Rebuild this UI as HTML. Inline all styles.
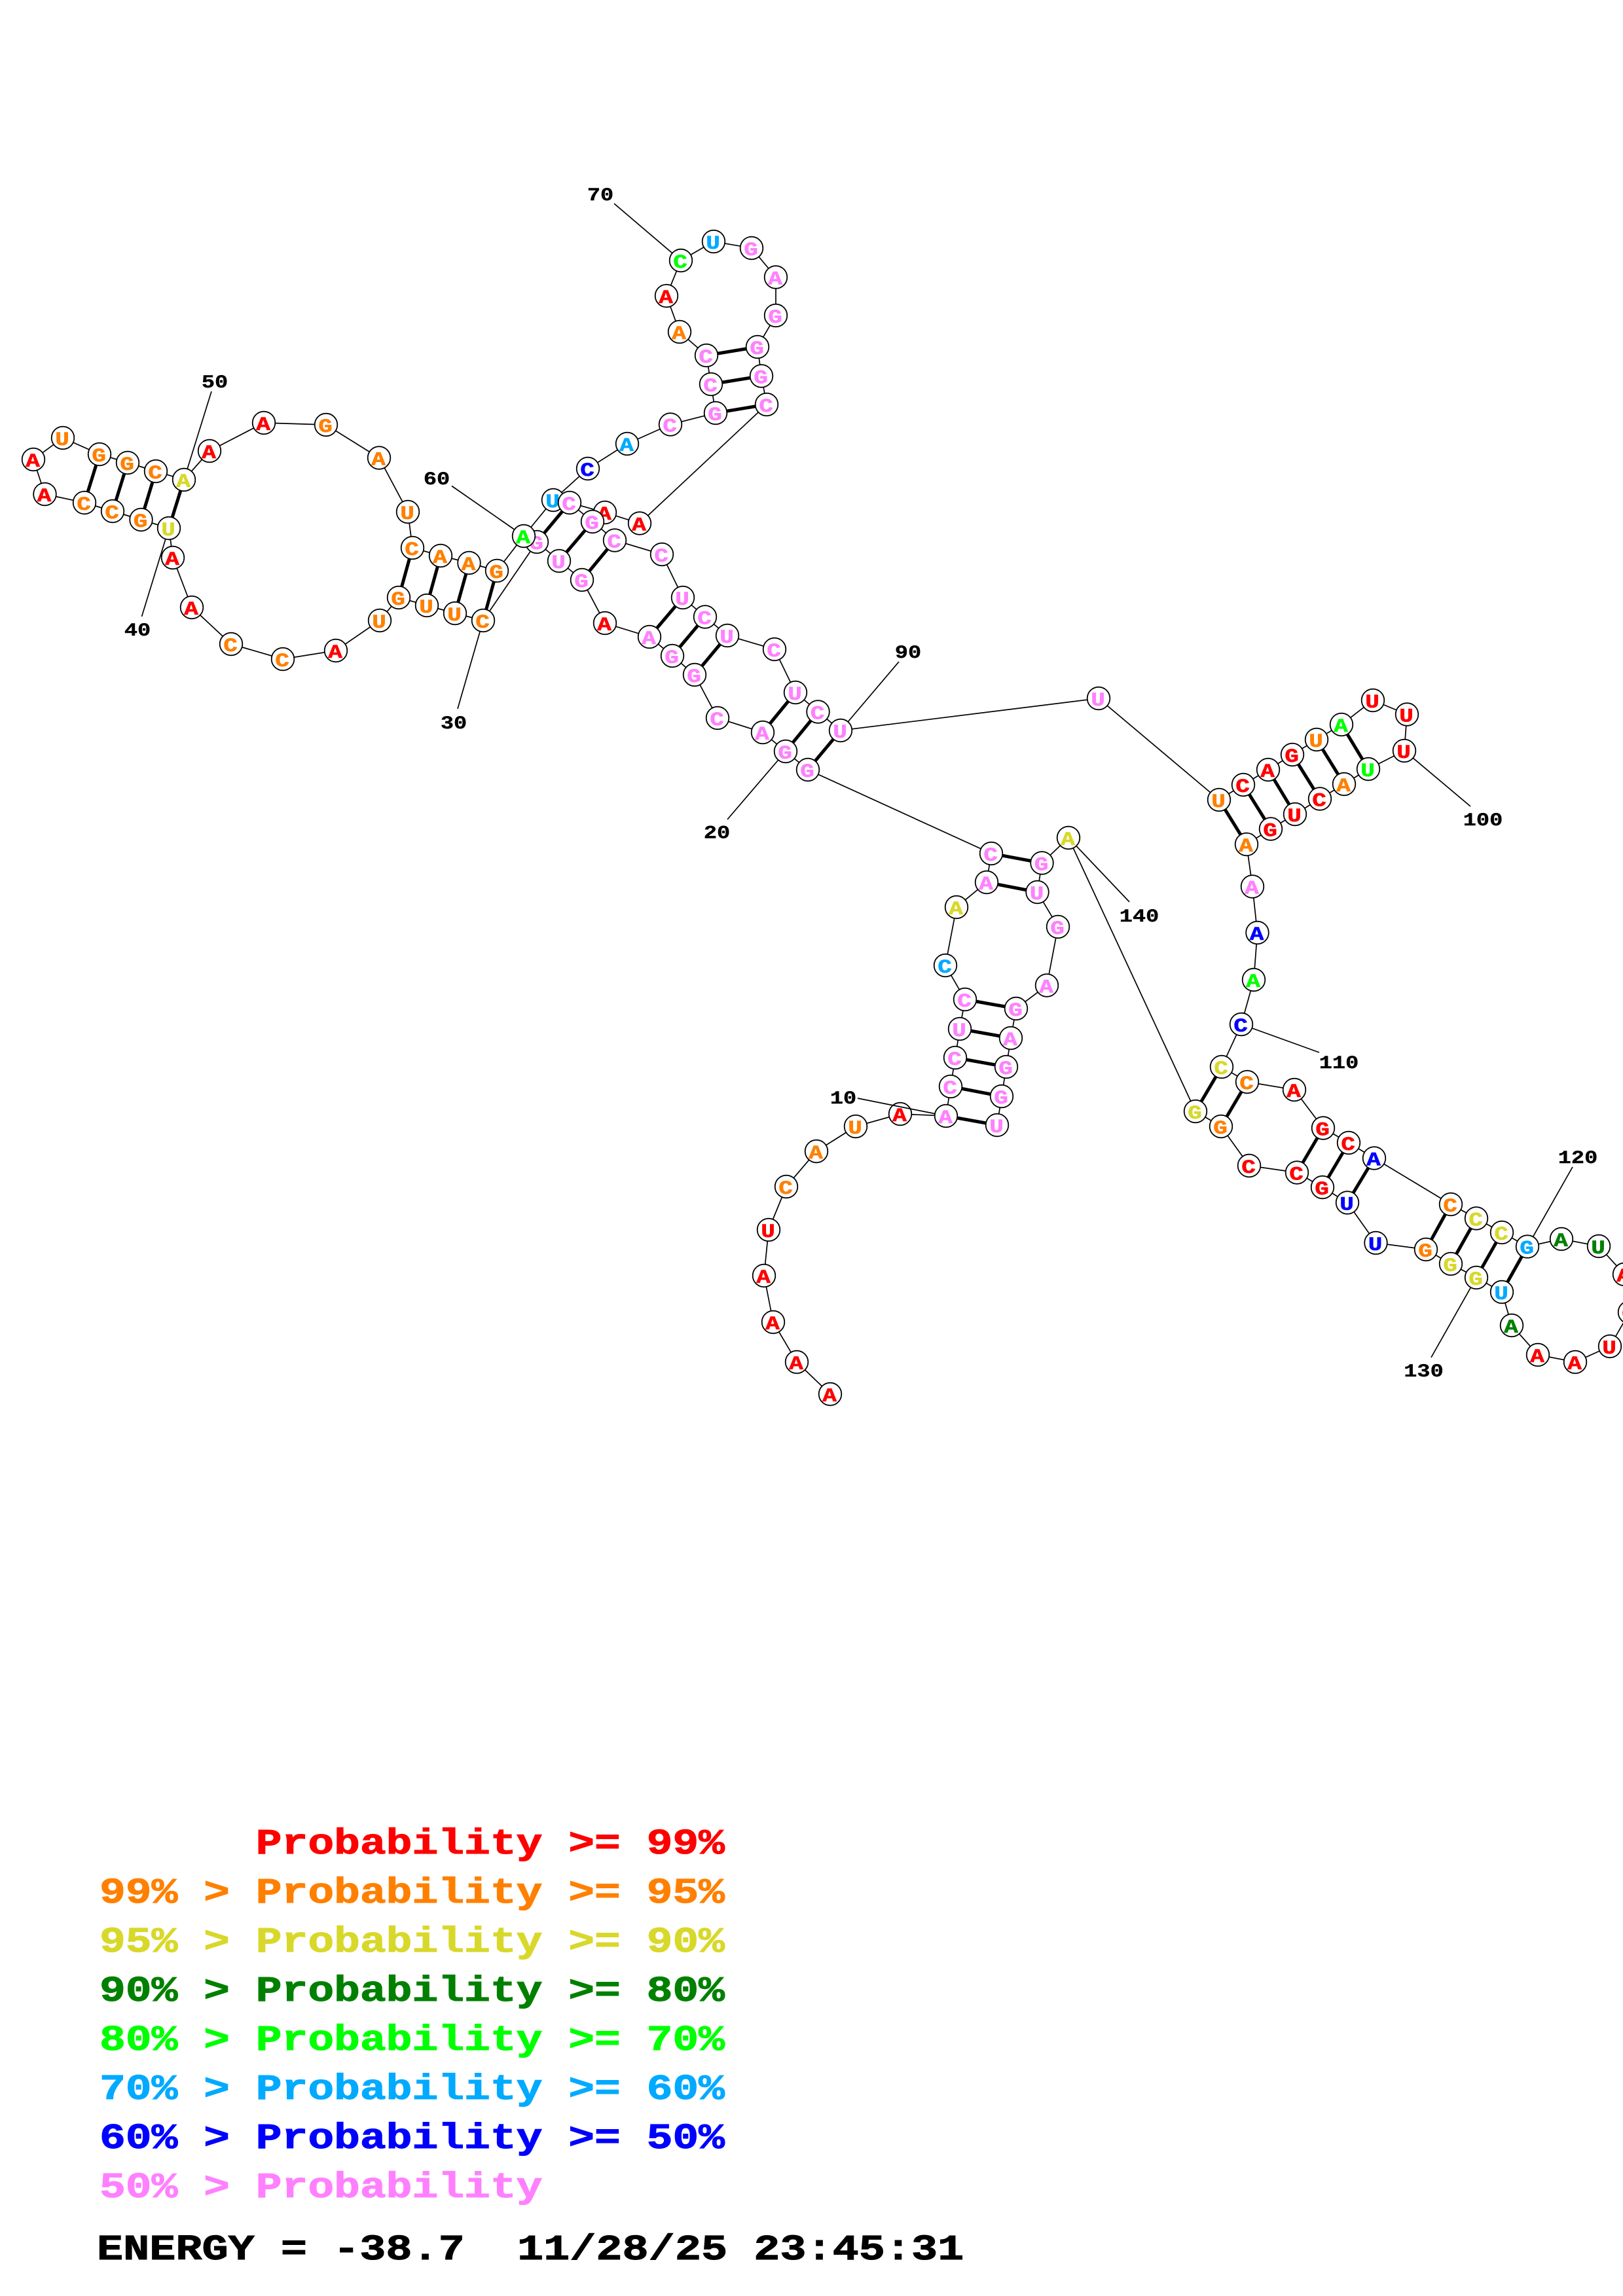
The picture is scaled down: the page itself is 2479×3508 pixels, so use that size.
<!DOCTYPE html>
<html><head><meta charset="utf-8"><title>RNA structure</title>
<style>
html,body{margin:0;padding:0;background:#fff}
svg{display:block}
.b{fill:none;stroke:#000;stroke-width:1.7}
.p line{stroke:#000;stroke-width:5}
.l{stroke:#000;stroke-width:1.7}
circle{fill:#fff;stroke:#000;stroke-width:1.8;r:17.3px}
g.n text{font:bold 30px "Liberation Mono",monospace;text-anchor:middle;stroke-width:.6;transform:translate(-1px,10.8px) scale(1.2,1)}
.num{font:bold 28px "Liberation Mono",monospace;text-anchor:middle;fill:#000;stroke:#000;stroke-width:.4}
.leg{font:bold 55px "Liberation Mono",monospace;white-space:pre;stroke-width:1}
.r{fill:#f00;stroke:#f00}.o{fill:#ff8000;stroke:#ff8000}.y{fill:#d8d82b;stroke:#d8d82b}.d{fill:#008000;stroke:#008000}.g{fill:#0f0;stroke:#0f0}.s{fill:#0af;stroke:#0af}.u{fill:#00f;stroke:#00f}.m{fill:#ff80ff;stroke:#ff80ff}.k{fill:#000;stroke:#000}
</style></head><body>
<svg xmlns="http://www.w3.org/2000/svg" width="2479" height="3508" viewBox="0 0 2479 3508">
<rect width="2479" height="3508" fill="#fff"/>
<polyline class="b" points="1268,2130 1217,2081 1181,2020 1167,1949 1174,1879 1201,1813 1247,1759 1307,1721 1375,1702 1445,1705 1452,1660 1459,1616 1466,1572 1474,1527 1444,1475 1461,1386 1507,1348 1514,1304 1234,1176 1200,1148 1165,1119 1096,1097 1061,1031 1027,1002 992,973 924,952 889,886 854,857 820,828 738,948 695,937 652,925 609,913 580,948 513,994 432,1007 353,984 293,928 264,852 258,807 215.5,794 172,781 129,768 68.5,755 51,702 96,669 152,694 195,707 238,720 281,733 320,689 403,646 498,649 579,699.5 623,782 630,837 673,849 716.5,860 759,872 800,819 845,764 898,716 958,678 1024,648.5 1093,631 1086,587 1079,543 1038,507 1018,452 1040,398 1090,369 1148,379 1185,423.5 1185,482 1157,530 1163,574.5 1171,618 977,799.5 924,783 870,768 905,797 939,825.5 1011,847 1043,913 1077,942.5 1111,971 1183,992 1215,1058 1249.5,1087.5 1284,1116 1678,1067 1862,1222 1899,1199 1937,1176 1974,1153 2011,1130 2049,1107 2097,1070 2149,1091.5 2145,1147 2090,1175 2053,1198 2016,1220.5 1978,1244 1941,1266.5 1904,1290 1913,1354.5 1920.5,1425 1915,1497 1896,1565 1866,1630 1905,1653 1977,1665 2021,1723.5 2060,1746 2099,1769.5 2216,1840 2255,1861.5 2294,1883 2333,1904.6 2385,1893 2442,1904 2481,1947 2489,2005 2459,2057 2406,2081 2349,2070 2309,2025 2294,1974 2255,1952 2216,1931 2178,1909 2101.5,1899 2058,1837.5 2020,1814 1981,1791.5 1908,1781 1865,1721 1826,1698 1632,1280 1591.5,1318.5 1584.5,1363 1616,1416 1599,1505.5 1552,1541 1544,1586 1537,1630 1530,1675 1523,1719"/>
<g class="p">
<line x1="1445" y1="1705" x2="1523" y2="1719"/>
<line x1="1452" y1="1660" x2="1530" y2="1675"/>
<line x1="1459" y1="1616" x2="1537" y2="1630"/>
<line x1="1466" y1="1572" x2="1544" y2="1586"/>
<line x1="1474" y1="1527" x2="1552" y2="1541"/>
<line x1="1507" y1="1348" x2="1584.5" y2="1363"/>
<line x1="1514" y1="1304" x2="1591.5" y2="1318.5"/>
<line x1="1234" y1="1176" x2="1284" y2="1116"/>
<line x1="1200" y1="1148" x2="1249.5" y2="1087.5"/>
<line x1="1165" y1="1119" x2="1215" y2="1058"/>
<line x1="1061" y1="1031" x2="1111" y2="971"/>
<line x1="1027" y1="1002" x2="1077" y2="942.5"/>
<line x1="992" y1="973" x2="1043" y2="913"/>
<line x1="889" y1="886" x2="939" y2="825.5"/>
<line x1="854" y1="857" x2="905" y2="797"/>
<line x1="820" y1="828" x2="870" y2="768"/>
<line x1="738" y1="948" x2="759" y2="872"/>
<line x1="695" y1="937" x2="716.5" y2="860"/>
<line x1="652" y1="925" x2="673" y2="849"/>
<line x1="609" y1="913" x2="630" y2="837"/>
<line x1="258" y1="807" x2="281" y2="733"/>
<line x1="215.5" y1="794" x2="238" y2="720"/>
<line x1="172" y1="781" x2="195" y2="707"/>
<line x1="129" y1="768" x2="152" y2="694"/>
<line x1="1093" y1="631" x2="1171" y2="618"/>
<line x1="1086" y1="587" x2="1163" y2="574.5"/>
<line x1="1079" y1="543" x2="1157" y2="530"/>
<line x1="1862" y1="1222" x2="1904" y2="1290"/>
<line x1="1899" y1="1199" x2="1941" y2="1266.5"/>
<line x1="1937" y1="1176" x2="1978" y2="1244"/>
<line x1="1974" y1="1153" x2="2016" y2="1220.5"/>
<line x1="2011" y1="1130" x2="2053" y2="1198"/>
<line x1="2049" y1="1107" x2="2090" y2="1175"/>
<line x1="1866" y1="1630" x2="1826" y2="1698"/>
<line x1="1905" y1="1653" x2="1865" y2="1721"/>
<line x1="2021" y1="1723.5" x2="1981" y2="1791.5"/>
<line x1="2060" y1="1746" x2="2020" y2="1814"/>
<line x1="2099" y1="1769.5" x2="2058" y2="1837.5"/>
<line x1="2216" y1="1840" x2="2178" y2="1909"/>
<line x1="2255" y1="1861.5" x2="2216" y2="1931"/>
<line x1="2294" y1="1883" x2="2255" y2="1952"/>
<line x1="2333" y1="1904.6" x2="2294" y2="1974"/>
</g>
<g class="n" transform="translate(1268 2130)"><circle/><text class="r">A</text></g>
<g class="n" transform="translate(1217 2081)"><circle/><text class="r">A</text></g>
<g class="n" transform="translate(1181 2020)"><circle/><text class="r">A</text></g>
<g class="n" transform="translate(1167 1949)"><circle/><text class="r">A</text></g>
<g class="n" transform="translate(1174 1879)"><circle/><text class="r">U</text></g>
<g class="n" transform="translate(1201 1813)"><circle/><text class="o">C</text></g>
<g class="n" transform="translate(1247 1759)"><circle/><text class="o">A</text></g>
<g class="n" transform="translate(1307 1721)"><circle/><text class="o">U</text></g>
<g class="n" transform="translate(1375 1702)"><circle/><text class="r">A</text></g>
<line class="l" x1="1310" y1="1678" x2="1445" y2="1705"/>
<g class="n" transform="translate(1445 1705)"><circle/><text class="m">A</text></g>
<g class="n" transform="translate(1452 1660)"><circle/><text class="m">C</text></g>
<g class="n" transform="translate(1459 1616)"><circle/><text class="m">C</text></g>
<g class="n" transform="translate(1466 1572)"><circle/><text class="m">U</text></g>
<g class="n" transform="translate(1474 1527)"><circle/><text class="m">C</text></g>
<g class="n" transform="translate(1444 1475)"><circle/><text class="s">C</text></g>
<g class="n" transform="translate(1461 1386)"><circle/><text class="y">A</text></g>
<g class="n" transform="translate(1507 1348)"><circle/><text class="m">A</text></g>
<g class="n" transform="translate(1514 1304)"><circle/><text class="m">C</text></g>
<g class="n" transform="translate(1234 1176)"><circle/><text class="m">G</text></g>
<line class="l" x1="1111" y1="1252" x2="1200" y2="1148"/>
<g class="n" transform="translate(1200 1148)"><circle/><text class="m">G</text></g>
<g class="n" transform="translate(1165 1119)"><circle/><text class="m">A</text></g>
<g class="n" transform="translate(1096 1097)"><circle/><text class="m">C</text></g>
<g class="n" transform="translate(1061 1031)"><circle/><text class="m">G</text></g>
<g class="n" transform="translate(1027 1002)"><circle/><text class="m">G</text></g>
<g class="n" transform="translate(992 973)"><circle/><text class="m">A</text></g>
<g class="n" transform="translate(924 952)"><circle/><text class="r">A</text></g>
<g class="n" transform="translate(889 886)"><circle/><text class="m">G</text></g>
<g class="n" transform="translate(854 857)"><circle/><text class="m">U</text></g>
<g class="n" transform="translate(820 828)"><circle/><text class="m">G</text></g>
<line class="l" x1="699" y1="1083" x2="738" y2="948"/>
<g class="n" transform="translate(738 948)"><circle/><text class="o">C</text></g>
<g class="n" transform="translate(695 937)"><circle/><text class="o">U</text></g>
<g class="n" transform="translate(652 925)"><circle/><text class="o">U</text></g>
<g class="n" transform="translate(609 913)"><circle/><text class="o">G</text></g>
<g class="n" transform="translate(580 948)"><circle/><text class="o">U</text></g>
<g class="n" transform="translate(513 994)"><circle/><text class="r">A</text></g>
<g class="n" transform="translate(432 1007)"><circle/><text class="o">C</text></g>
<g class="n" transform="translate(353 984)"><circle/><text class="o">C</text></g>
<g class="n" transform="translate(293 928)"><circle/><text class="r">A</text></g>
<g class="n" transform="translate(264 852)"><circle/><text class="r">A</text></g>
<line class="l" x1="216.5" y1="942" x2="258" y2="807"/>
<g class="n" transform="translate(258 807)"><circle/><text class="y">U</text></g>
<g class="n" transform="translate(215.5 794)"><circle/><text class="o">G</text></g>
<g class="n" transform="translate(172 781)"><circle/><text class="o">C</text></g>
<g class="n" transform="translate(129 768)"><circle/><text class="o">C</text></g>
<g class="n" transform="translate(68.5 755)"><circle/><text class="r">A</text></g>
<g class="n" transform="translate(51 702)"><circle/><text class="r">A</text></g>
<g class="n" transform="translate(96 669)"><circle/><text class="o">U</text></g>
<g class="n" transform="translate(152 694)"><circle/><text class="o">G</text></g>
<g class="n" transform="translate(195 707)"><circle/><text class="o">G</text></g>
<g class="n" transform="translate(238 720)"><circle/><text class="o">C</text></g>
<line class="l" x1="323" y1="598" x2="281" y2="733"/>
<g class="n" transform="translate(281 733)"><circle/><text class="y">A</text></g>
<g class="n" transform="translate(320 689)"><circle/><text class="r">A</text></g>
<g class="n" transform="translate(403 646)"><circle/><text class="r">A</text></g>
<g class="n" transform="translate(498 649)"><circle/><text class="o">G</text></g>
<g class="n" transform="translate(579 699.5)"><circle/><text class="o">A</text></g>
<g class="n" transform="translate(623 782)"><circle/><text class="o">U</text></g>
<g class="n" transform="translate(630 837)"><circle/><text class="o">C</text></g>
<g class="n" transform="translate(673 849)"><circle/><text class="o">A</text></g>
<g class="n" transform="translate(716.5 860)"><circle/><text class="o">A</text></g>
<g class="n" transform="translate(759 872)"><circle/><text class="o">G</text></g>
<line class="l" x1="690" y1="742.5" x2="800" y2="819"/>
<g class="n" transform="translate(800 819)"><circle/><text class="g">A</text></g>
<g class="n" transform="translate(845 764)"><circle/><text class="s">U</text></g>
<g class="n" transform="translate(898 716)"><circle/><text class="u">C</text></g>
<g class="n" transform="translate(958 678)"><circle/><text class="s">A</text></g>
<g class="n" transform="translate(1024 648.5)"><circle/><text class="m">C</text></g>
<g class="n" transform="translate(1093 631)"><circle/><text class="m">G</text></g>
<g class="n" transform="translate(1086 587)"><circle/><text class="m">C</text></g>
<g class="n" transform="translate(1079 543)"><circle/><text class="m">C</text></g>
<g class="n" transform="translate(1038 507)"><circle/><text class="o">A</text></g>
<g class="n" transform="translate(1018 452)"><circle/><text class="r">A</text></g>
<line class="l" x1="938" y1="311" x2="1040" y2="398"/>
<g class="n" transform="translate(1040 398)"><circle/><text class="g">C</text></g>
<g class="n" transform="translate(1090 369)"><circle/><text class="s">U</text></g>
<g class="n" transform="translate(1148 379)"><circle/><text class="m">G</text></g>
<g class="n" transform="translate(1185 423.5)"><circle/><text class="m">A</text></g>
<g class="n" transform="translate(1185 482)"><circle/><text class="m">G</text></g>
<g class="n" transform="translate(1157 530)"><circle/><text class="m">G</text></g>
<g class="n" transform="translate(1163 574.5)"><circle/><text class="m">G</text></g>
<g class="n" transform="translate(1171 618)"><circle/><text class="m">C</text></g>
<g class="n" transform="translate(977 799.5)"><circle/><text class="r">A</text></g>
<g class="n" transform="translate(924 783)"><circle/><text class="r">A</text></g>
<g class="n" transform="translate(870 768)"><circle/><text class="m">C</text></g>
<g class="n" transform="translate(905 797)"><circle/><text class="m">G</text></g>
<g class="n" transform="translate(939 825.5)"><circle/><text class="m">C</text></g>
<g class="n" transform="translate(1011 847)"><circle/><text class="m">C</text></g>
<g class="n" transform="translate(1043 913)"><circle/><text class="m">U</text></g>
<g class="n" transform="translate(1077 942.5)"><circle/><text class="m">C</text></g>
<g class="n" transform="translate(1111 971)"><circle/><text class="m">U</text></g>
<g class="n" transform="translate(1183 992)"><circle/><text class="m">C</text></g>
<g class="n" transform="translate(1215 1058)"><circle/><text class="m">U</text></g>
<g class="n" transform="translate(1249.5 1087.5)"><circle/><text class="m">C</text></g>
<line class="l" x1="1373" y1="1011" x2="1284" y2="1116"/>
<g class="n" transform="translate(1284 1116)"><circle/><text class="m">U</text></g>
<g class="n" transform="translate(1678 1067)"><circle/><text class="m">U</text></g>
<g class="n" transform="translate(1862 1222)"><circle/><text class="o">U</text></g>
<g class="n" transform="translate(1899 1199)"><circle/><text class="r">C</text></g>
<g class="n" transform="translate(1937 1176)"><circle/><text class="r">A</text></g>
<g class="n" transform="translate(1974 1153)"><circle/><text class="r">G</text></g>
<g class="n" transform="translate(2011 1130)"><circle/><text class="o">U</text></g>
<g class="n" transform="translate(2049 1107)"><circle/><text class="g">A</text></g>
<g class="n" transform="translate(2097 1070)"><circle/><text class="r">U</text></g>
<g class="n" transform="translate(2149 1091.5)"><circle/><text class="r">U</text></g>
<line class="l" x1="2246" y1="1232" x2="2145" y2="1147"/>
<g class="n" transform="translate(2145 1147)"><circle/><text class="r">U</text></g>
<g class="n" transform="translate(2090 1175)"><circle/><text class="g">U</text></g>
<g class="n" transform="translate(2053 1198)"><circle/><text class="o">A</text></g>
<g class="n" transform="translate(2016 1220.5)"><circle/><text class="r">C</text></g>
<g class="n" transform="translate(1978 1244)"><circle/><text class="r">U</text></g>
<g class="n" transform="translate(1941 1266.5)"><circle/><text class="r">G</text></g>
<g class="n" transform="translate(1904 1290)"><circle/><text class="o">A</text></g>
<g class="n" transform="translate(1913 1354.5)"><circle/><text class="m">A</text></g>
<g class="n" transform="translate(1920.5 1425)"><circle/><text class="u">A</text></g>
<g class="n" transform="translate(1915 1497)"><circle/><text class="g">A</text></g>
<line class="l" x1="2015" y1="1608" x2="1896" y2="1565"/>
<g class="n" transform="translate(1896 1565)"><circle/><text class="u">C</text></g>
<g class="n" transform="translate(1866 1630)"><circle/><text class="y">C</text></g>
<g class="n" transform="translate(1905 1653)"><circle/><text class="o">C</text></g>
<g class="n" transform="translate(1977 1665)"><circle/><text class="r">A</text></g>
<g class="n" transform="translate(2021 1723.5)"><circle/><text class="r">G</text></g>
<g class="n" transform="translate(2060 1746)"><circle/><text class="r">C</text></g>
<g class="n" transform="translate(2099 1769.5)"><circle/><text class="u">A</text></g>
<g class="n" transform="translate(2216 1840)"><circle/><text class="o">C</text></g>
<g class="n" transform="translate(2255 1861.5)"><circle/><text class="y">C</text></g>
<g class="n" transform="translate(2294 1883)"><circle/><text class="y">C</text></g>
<line class="l" x1="2402" y1="1783" x2="2333" y2="1904.6"/>
<g class="n" transform="translate(2333 1904.6)"><circle/><text class="s">G</text></g>
<g class="n" transform="translate(2385 1893)"><circle/><text class="d">A</text></g>
<g class="n" transform="translate(2442 1904)"><circle/><text class="d">U</text></g>
<g class="n" transform="translate(2481 1947)"><circle/><text class="r">A</text></g>
<g class="n" transform="translate(2489 2005)"><circle/><text class="r">G</text></g>
<g class="n" transform="translate(2459 2057)"><circle/><text class="r">U</text></g>
<g class="n" transform="translate(2406 2081)"><circle/><text class="r">A</text></g>
<g class="n" transform="translate(2349 2070)"><circle/><text class="r">A</text></g>
<g class="n" transform="translate(2309 2025)"><circle/><text class="d">A</text></g>
<g class="n" transform="translate(2294 1974)"><circle/><text class="s">U</text></g>
<line class="l" x1="2186" y1="2074" x2="2255" y2="1952"/>
<g class="n" transform="translate(2255 1952)"><circle/><text class="y">G</text></g>
<g class="n" transform="translate(2216 1931)"><circle/><text class="y">G</text></g>
<g class="n" transform="translate(2178 1909)"><circle/><text class="o">G</text></g>
<g class="n" transform="translate(2101.5 1899)"><circle/><text class="u">U</text></g>
<g class="n" transform="translate(2058 1837.5)"><circle/><text class="u">U</text></g>
<g class="n" transform="translate(2020 1814)"><circle/><text class="r">G</text></g>
<g class="n" transform="translate(1981 1791.5)"><circle/><text class="r">C</text></g>
<g class="n" transform="translate(1908 1781)"><circle/><text class="r">C</text></g>
<g class="n" transform="translate(1865 1721)"><circle/><text class="o">G</text></g>
<g class="n" transform="translate(1826 1698)"><circle/><text class="y">G</text></g>
<line class="l" x1="1725" y1="1378" x2="1632" y2="1280"/>
<g class="n" transform="translate(1632 1280)"><circle/><text class="y">A</text></g>
<g class="n" transform="translate(1591.5 1318.5)"><circle/><text class="m">G</text></g>
<g class="n" transform="translate(1584.5 1363)"><circle/><text class="m">U</text></g>
<g class="n" transform="translate(1616 1416)"><circle/><text class="m">G</text></g>
<g class="n" transform="translate(1599 1505.5)"><circle/><text class="m">A</text></g>
<g class="n" transform="translate(1552 1541)"><circle/><text class="m">G</text></g>
<g class="n" transform="translate(1544 1586)"><circle/><text class="m">A</text></g>
<g class="n" transform="translate(1537 1630)"><circle/><text class="m">G</text></g>
<g class="n" transform="translate(1530 1675)"><circle/><text class="m">G</text></g>
<g class="n" transform="translate(1523 1719)"><circle/><text class="m">U</text></g>
<text class="num" transform="translate(1288 1686) scale(1.2 1)">10</text>
<text class="num" transform="translate(1095 1280.5) scale(1.2 1)">20</text>
<text class="num" transform="translate(693 1113) scale(1.2 1)">30</text>
<text class="num" transform="translate(210 971) scale(1.2 1)">40</text>
<text class="num" transform="translate(328 592) scale(1.2 1)">50</text>
<text class="num" transform="translate(667 740) scale(1.2 1)">60</text>
<text class="num" transform="translate(917 306) scale(1.2 1)">70</text>
<text class="num" transform="translate(1387 1005) scale(1.2 1)">90</text>
<text class="num" transform="translate(2265 1261) scale(1.2 1)">100</text>
<text class="num" transform="translate(2045 1632) scale(1.2 1)">110</text>
<text class="num" transform="translate(2410 1777) scale(1.2 1)">120</text>
<text class="num" transform="translate(2174.5 2103) scale(1.2 1)">130</text>
<text class="num" transform="translate(1740 1408) scale(1.2 1)">140</text>
<text class="leg r" xml:space="preserve" transform="translate(152 2832) scale(1.206 1)">      Probability &gt;= 99%</text>
<text class="leg o" xml:space="preserve" transform="translate(152 2907) scale(1.206 1)">99% &gt; Probability &gt;= 95%</text>
<text class="leg y" xml:space="preserve" transform="translate(152 2982) scale(1.206 1)">95% &gt; Probability &gt;= 90%</text>
<text class="leg d" xml:space="preserve" transform="translate(152 3057) scale(1.206 1)">90% &gt; Probability &gt;= 80%</text>
<text class="leg g" xml:space="preserve" transform="translate(152 3132) scale(1.206 1)">80% &gt; Probability &gt;= 70%</text>
<text class="leg s" xml:space="preserve" transform="translate(152 3207) scale(1.206 1)">70% &gt; Probability &gt;= 60%</text>
<text class="leg u" xml:space="preserve" transform="translate(152 3282) scale(1.206 1)">60% &gt; Probability &gt;= 50%</text>
<text class="leg m" xml:space="preserve" transform="translate(152 3357) scale(1.206 1)">50% &gt; Probability</text>
<text class="leg k" xml:space="preserve" transform="translate(148 3452) scale(1.216 1)">ENERGY = -38.7  11/28/25 23:45:31</text>
</svg>
</body></html>
